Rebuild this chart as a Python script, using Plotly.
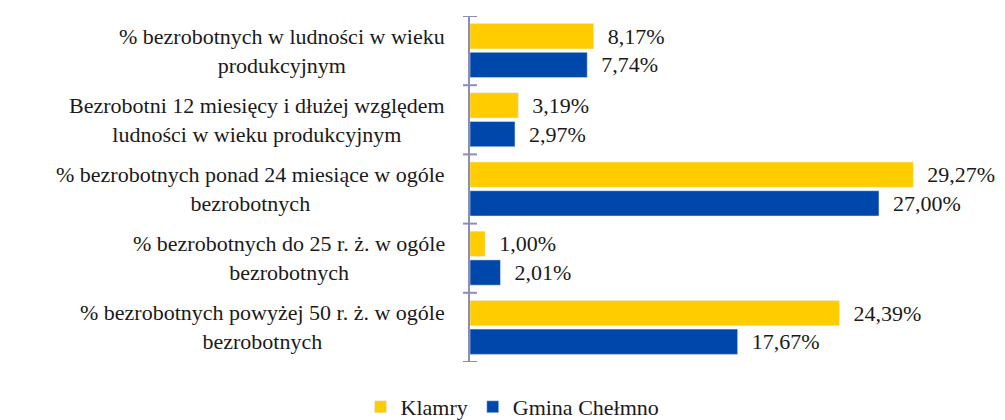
import plotly.graph_objects as go

categories = [
    "% bezrobotnych w ludności w wieku<br>produkcyjnym",
    "Bezrobotni 12 miesięcy i dłużej względem<br>ludności w wieku produkcyjnym",
    "% bezrobotnych ponad 24 miesiące w ogóle<br>bezrobotnych",
    "% bezrobotnych do 25 r. ż. w ogóle<br>bezrobotnych",
    "% bezrobotnych powyżej 50 r. ż. w ogóle<br>bezrobotnych",
]
klamry = [8.17, 3.19, 29.27, 1.00, 24.39]
chelmno = [7.74, 2.97, 27.00, 2.01, 17.67]
series_names = ["Klamry", "Gmina Chełmno"]

FONT = "'Liberation Serif', 'Times New Roman', serif"
TXT = "#1a1a1a"
AXC = "#8E8EB5"
idx = list(range(len(categories)))
boundaries = [i - 0.5 for i in range(len(categories) + 1)]

def fmt(v):
    return "\u00a0\u00a0" + f"{v:.2f}".replace(".", ",") + "%"

fig = go.Figure()
fig.add_trace(go.Bar(
    y=idx, x=klamry, orientation="h", name=series_names[0],
    marker=dict(color="#FFCC00"),
    text=[fmt(v) for v in klamry], textposition="outside",
    textfont=dict(family=FONT, size=22, color=TXT),
    cliponaxis=False,
))
fig.add_trace(go.Bar(
    y=idx, x=chelmno, orientation="h", name=series_names[1],
    marker=dict(color="#0047AB"),
    text=[fmt(v) for v in chelmno], textposition="outside",
    textfont=dict(family=FONT, size=22, color=TXT),
    cliponaxis=False,
))

annotations = []
for i, c in enumerate(categories):
    annotations.append(dict(
        x=0, y=i, xref="x", yref="y", text=c, showarrow=False,
        xanchor="right", yanchor="middle", align="center", xshift=-23,
        font=dict(family=FONT, size=22, color=TXT),
    ))

# tick marks crossing the axis line at category boundaries
shapes = [dict(type="line", xref="paper", yref="y", x0=-0.0136, x1=0.0136, y0=b, y1=b,
               line=dict(color=AXC, width=2), layer="above") for b in boundaries]

fig.update_layout(
    width=1005, height=420,
    margin=dict(l=470, r=20, t=16, b=58),
    paper_bgcolor="white", plot_bgcolor="white",
    barmode="group", bargap=0.17, bargroupgap=0.12,
    showlegend=True,
    legend=dict(orientation="h", xref="container", yref="container",
                x=0.51, xanchor="center", y=0.031, yanchor="middle",
                font=dict(family=FONT, size=22, color=TXT),
                itemwidth=30, traceorder="normal"),
    annotations=annotations,
    shapes=shapes,
    font=dict(family=FONT, size=22, color=TXT),
    xaxis=dict(range=[0, 34], showgrid=False, showticklabels=False, zeroline=False,
               showline=False, ticks=""),
    yaxis=dict(range=[4.5, -0.5], showgrid=False, zeroline=False, showline=True,
               linecolor=AXC, linewidth=2, ticks="", showticklabels=False),
)

fig.write_html("out.html", post_script="document.body.style.margin='0';",
               config={"displayModeBar": False})
